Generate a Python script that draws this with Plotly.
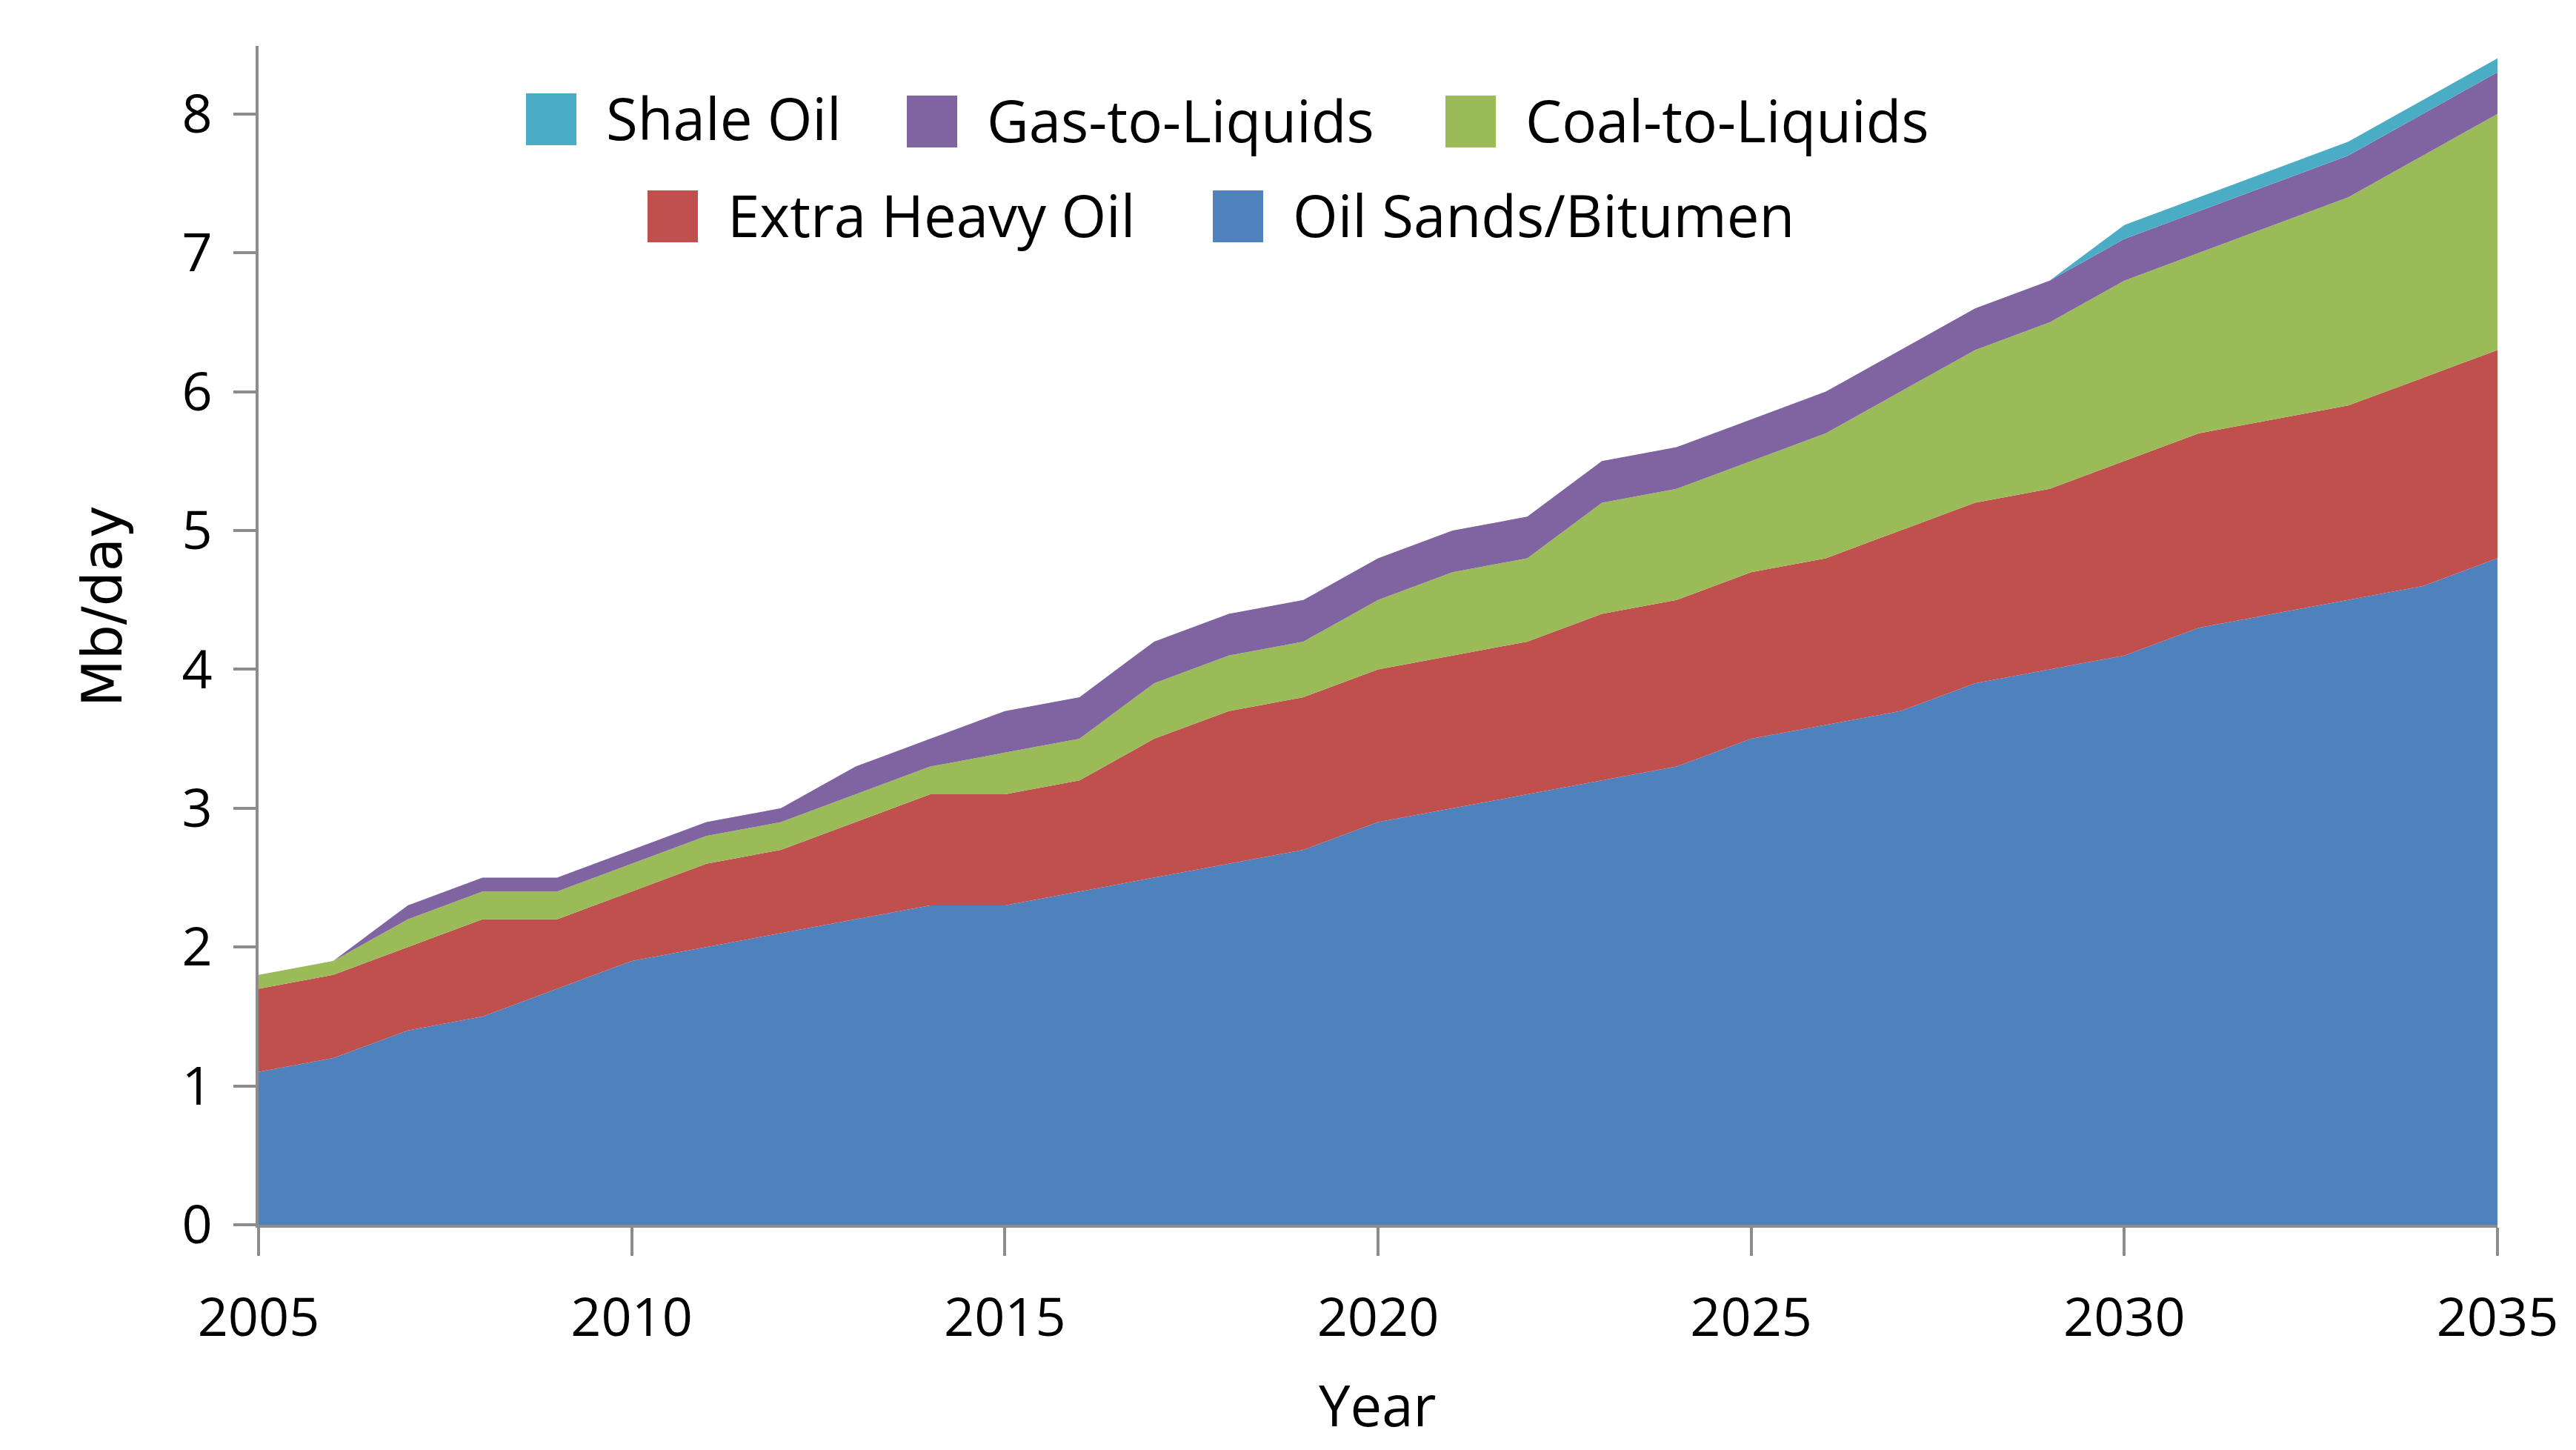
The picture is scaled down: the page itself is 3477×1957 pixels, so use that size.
import plotly.graph_objects as go

# years on the x axis
years = list(range(2005, 2036))

# stacked layers, Mb/day (bottom layer first)
oil_sands = [1.1, 1.2, 1.4, 1.5, 1.7, 1.9, 2.0, 2.1, 2.2, 2.3, 2.3, 2.4, 2.5, 2.6, 2.7, 2.9,
             3.0, 3.1, 3.2, 3.3, 3.5, 3.6, 3.7, 3.9, 4.0, 4.1, 4.3, 4.4, 4.5, 4.6, 4.8]
extra_heavy = [0.6, 0.6, 0.6, 0.7, 0.5, 0.5, 0.6, 0.6, 0.7, 0.8, 0.8, 0.8, 1.0, 1.1, 1.1, 1.1,
               1.1, 1.1, 1.2, 1.2, 1.2, 1.2, 1.3, 1.3, 1.3, 1.4, 1.4, 1.4, 1.4, 1.5, 1.5]
coal_to_liquids = [0.1, 0.1, 0.2, 0.2, 0.2, 0.2, 0.2, 0.2, 0.2, 0.2, 0.3, 0.3, 0.4, 0.4, 0.4, 0.5,
                   0.6, 0.6, 0.8, 0.8, 0.8, 0.9, 1.0, 1.1, 1.2, 1.3, 1.3, 1.4, 1.5, 1.6, 1.7]
gas_to_liquids = [0.0, 0.0, 0.1, 0.1, 0.1, 0.1, 0.1, 0.1, 0.2, 0.2, 0.3, 0.3, 0.3, 0.3, 0.3, 0.3,
                  0.3, 0.3, 0.3, 0.3, 0.3, 0.3, 0.3, 0.3, 0.3, 0.3, 0.3, 0.3, 0.3, 0.3, 0.3]
shale_oil = [0.0] * 25 + [0.1, 0.1, 0.1, 0.1, 0.1, 0.1]

names = ["Oil Sands/Bitumen", "Extra Heavy Oil", "Coal-to-Liquids", "Gas-to-Liquids", "Shale Oil"]
colors = ["#4F81BD", "#C0504D", "#9BBB59", "#8064A2", "#4BACC6"]
series = [oil_sands, extra_heavy, coal_to_liquids, gas_to_liquids, shale_oil]

W, H = 3477, 1957
L, R, T, B = 341, 114, 54, 312
pw, ph = W - L - R, H - T - B


def px(x):
    return (x - L) / pw


def py(y):
    return (H - B - y) / ph


fig = go.Figure()
for name, vals, col in zip(names, series, colors):
    fig.add_trace(go.Scatter(x=years, y=vals, name=name, stackgroup="one",
                             mode="lines", line=dict(width=0, color=col),
                             fillcolor=col, showlegend=False))

# hand-made legend: two centred rows of square swatches
legend_items = [
    ("Shale Oil", "#4BACC6", 702, 153),
    ("Gas-to-Liquids", "#8064A2", 1216, 156),
    ("Coal-to-Liquids", "#9BBB59", 1943, 156),
    ("Extra Heavy Oil", "#C0504D", 866, 284),
    ("Oil Sands/Bitumen", "#4F81BD", 1629, 284),
]
shapes = []
annotations = []
for label, col, x0, yc in legend_items:
    shapes.append(dict(type="rect", xref="paper", yref="paper",
                       x0=px(x0), x1=px(x0 + 68), y0=py(yc - 35), y1=py(yc + 35),
                       fillcolor=col, line=dict(width=0)))
    annotations.append(dict(text=label, xref="paper", yref="paper",
                            x=px(x0 + 106), y=py(yc - 2), xanchor="left", yanchor="middle",
                            showarrow=False, font=dict(family="Open Sans", size=78, color="#000")))

# axis titles
annotations.append(dict(text="Year", xref="paper", yref="paper", x=px(1851), y=py(1887),
                        xanchor="center", yanchor="middle", showarrow=False,
                        font=dict(family="Open Sans", size=76, color="#000")))
annotations.append(dict(text="Mb/day", xref="paper", yref="paper", x=px(130), y=py(810),
                        xanchor="center", yanchor="middle", textangle=-90, showarrow=False,
                        font=dict(family="DejaVu Sans", size=74, color="#000")))

fig.update_layout(
    width=W, height=H,
    margin=dict(l=L, r=R, t=T, b=B),
    paper_bgcolor="white", plot_bgcolor="white",
    font=dict(family="Open Sans", size=72, color="#000"),
    shapes=shapes, annotations=annotations,
    showlegend=False,
)
fig.update_xaxes(range=[2005, 2035], tickvals=[2005, 2010, 2015, 2020, 2025, 2030, 2035],
                 showgrid=False, zeroline=False, showline=True, linecolor="#8C8C8C", linewidth=4,
                 ticks="outside", ticklen=38, tickwidth=4, tickcolor="#8C8C8C",
                 ticklabelstandoff=22, tickfont=dict(size=72))
fig.update_yaxes(range=[0, 8.49], tickvals=[0, 1, 2, 3, 4, 5, 6, 7, 8],
                 showgrid=False, zeroline=False, showline=True, linecolor="#8C8C8C", linewidth=4,
                 ticks="outside", ticklen=30, tickwidth=4, tickcolor="#8C8C8C",
                 ticklabelstandoff=14, tickfont=dict(size=72))

fig.write_html("out.html")
